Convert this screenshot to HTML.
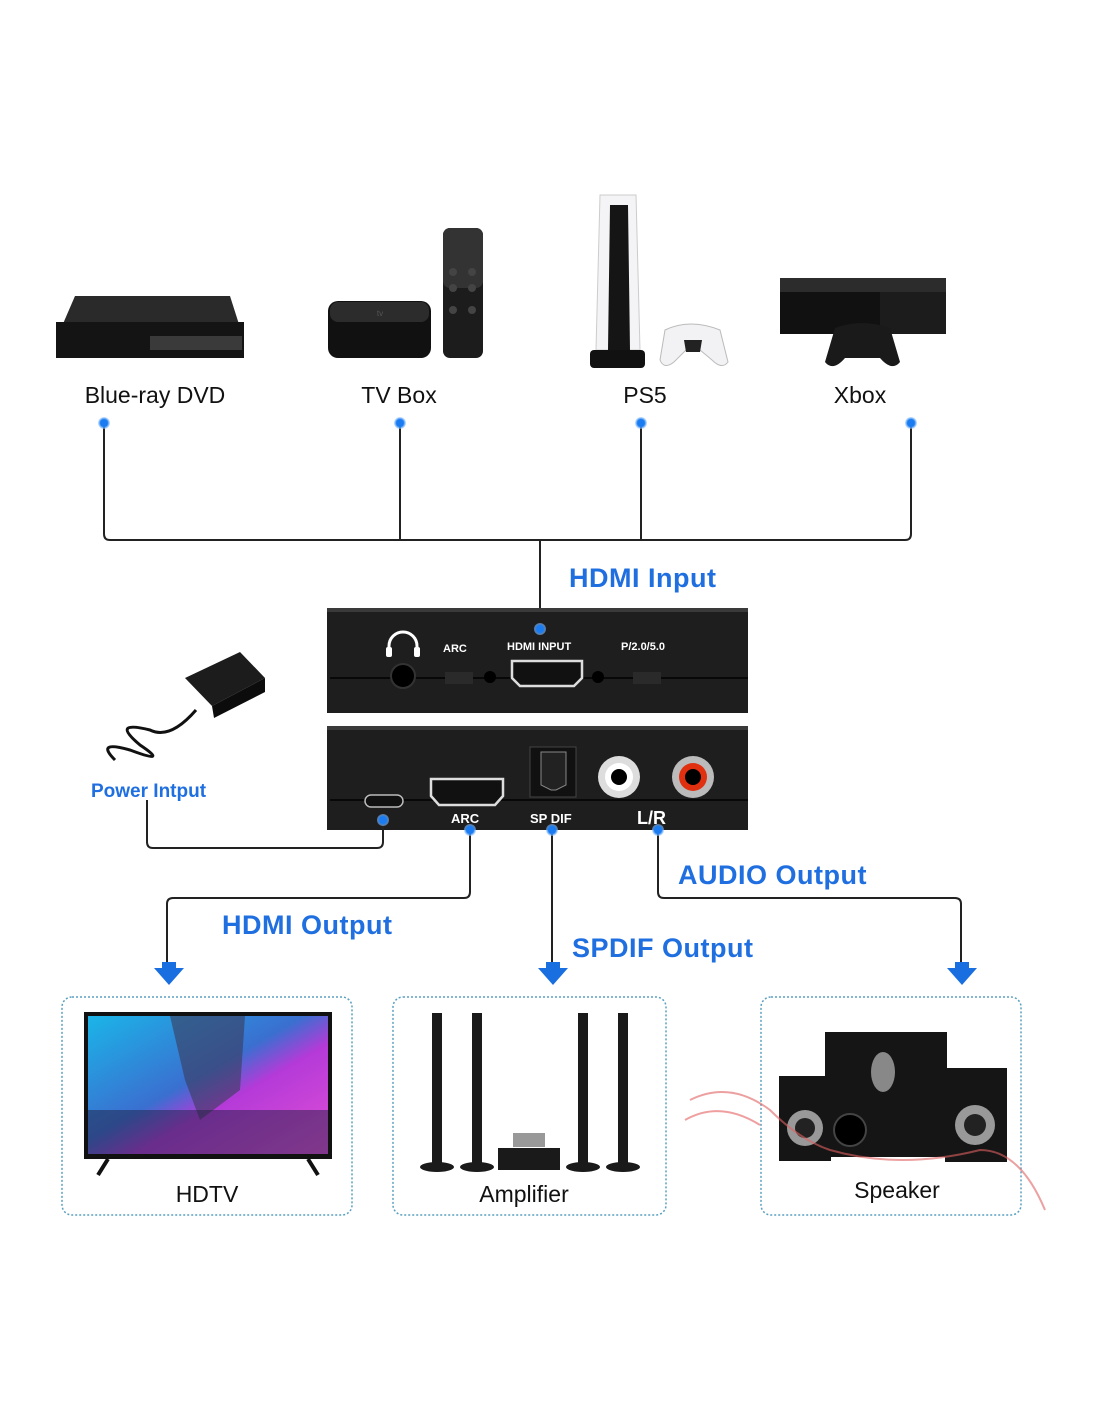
<!DOCTYPE html>
<html><head><meta charset="utf-8"><style>
html,body{margin:0;padding:0;background:#fff;}
svg{display:block;}
text{font-family:"Liberation Sans",sans-serif;}
</style></head><body>
<svg width="1100" height="1422" viewBox="0 0 1100 1422" xmlns="http://www.w3.org/2000/svg">
<defs>
<linearGradient id="tv" x1="0" y1="0" x2="1" y2="1">
<stop offset="0" stop-color="#1bb5e8"/><stop offset="0.45" stop-color="#3a6fd0"/><stop offset="0.6" stop-color="#b43ad8"/><stop offset="1" stop-color="#e24fd6"/></linearGradient>
<radialGradient id="glow"><stop offset="0" stop-color="#1a7cf0"/><stop offset="0.6" stop-color="#1a7cf0"/><stop offset="1" stop-color="#9cc8ff" stop-opacity="0.5"/></radialGradient>
</defs>

<polygon points="75,296 230,296 244,340 56,340" fill="#2a2a2a"/>
<rect x="56" y="322" width="188" height="36" fill="#141414"/>
<rect x="150" y="336" width="92" height="14" fill="#3a3a3a"/>
<rect x="328" y="301" width="103" height="57" rx="10" fill="#111"/>
<rect x="330" y="302" width="99" height="20" rx="8" fill="#2c2c2c"/>
<text x="380" y="316" font-size="8" fill="#555" text-anchor="middle">tv</text>
<rect x="443" y="228" width="40" height="130" rx="7" fill="#1c1c1c"/>
<rect x="443" y="228" width="40" height="60" rx="7" fill="#333"/>
<circle cx="453" cy="272" r="4" fill="#444"/><circle cx="472" cy="272" r="4" fill="#444"/>
<circle cx="453" cy="288" r="4" fill="#444"/><circle cx="472" cy="288" r="4" fill="#444"/>
<circle cx="453" cy="310" r="4" fill="#444"/><circle cx="472" cy="310" r="4" fill="#444"/>
<path d="M600,195 L636,195 L640,350 L596,350 Z" fill="#f4f4f6" stroke="#ccc"/>
<path d="M610,205 L628,205 L630,350 L608,350 Z" fill="#151515"/>
<rect x="590" y="350" width="55" height="18" rx="4" fill="#111"/>
<path d="M665,330 Q690,318 720,330 L728,362 Q722,370 712,360 L700,350 L686,350 L674,362 Q664,370 660,360 Z" fill="#f2f2f4" stroke="#bbb"/>
<path d="M684,340 L702,340 L700,352 L686,352 Z" fill="#222"/>
<rect x="780" y="278" width="166" height="56" fill="#111"/>
<rect x="780" y="278" width="166" height="14" fill="#2c2c2c"/>
<rect x="880" y="292" width="66" height="42" fill="#1c1c1c"/>
<path d="M835,328 Q862,318 890,328 L900,362 Q892,372 880,358 L845,358 Q833,372 825,362 Z" fill="#1a1a1a"/>

<g font-size="23" fill="#111" text-anchor="middle">
<text x="155" y="403">Blue-ray DVD</text>
<text x="399" y="403">TV Box</text>
<text x="645" y="403">PS5</text>
<text x="860" y="403">Xbox</text>
</g>

<g fill="none" stroke="#222" stroke-width="2">
<path d="M104,423 V534 Q104,540 110,540 H905 Q911,540 911,534 V423"/>
<path d="M400,423 V540 M641,423 V540 M540,540 V628"/>
</g>
<g fill="url(#glow)">
<circle cx="104" cy="423" r="6"/><circle cx="400" cy="423" r="6"/><circle cx="641" cy="423" r="6"/><circle cx="911" cy="423" r="6"/>
</g>

<text x="569" y="587" font-size="27" font-weight="bold" fill="#1f6fe0" letter-spacing="0.5">HDMI Input</text>

<rect x="327" y="608" width="421" height="105" fill="#1e1e1e"/>
<rect x="327" y="608" width="421" height="4" fill="#3a3a3a"/>
<line x1="330" y1="678" x2="748" y2="678" stroke="#000" stroke-width="1.5"/>
<circle cx="540" cy="629" r="6" fill="url(#glow)"/>
<path d="M389,655 V646 A14,14 0 0 1 417,646 V655" fill="none" stroke="#fff" stroke-width="3"/>
<rect x="386" y="647" width="6" height="10" rx="2" fill="#fff"/><rect x="414" y="647" width="6" height="10" rx="2" fill="#fff"/>
<circle cx="403" cy="676" r="12" fill="#000" stroke="#333" stroke-width="2"/>
<g font-size="11" font-weight="bold" fill="#fff">
<text x="443" y="652">ARC</text>
<text x="507" y="650">HDMI INPUT</text>
<text x="621" y="650">P/2.0/5.0</text>
<text x="364" y="762">DC 5V</text>
<text x="434" y="763">HDMI OUT</text>
</g>
<rect x="445" y="672" width="28" height="12" fill="#2a2a2a"/>
<rect x="633" y="672" width="28" height="12" fill="#2a2a2a"/>
<circle cx="490" cy="677" r="6" fill="#000"/><circle cx="598" cy="677" r="6" fill="#000"/>
<path d="M512,661 H582 V678 L574,686 H520 L512,678 Z" fill="#111" stroke="#ddd" stroke-width="2.5"/>

<rect x="327" y="726" width="421" height="104" fill="#1e1e1e"/>
<rect x="327" y="726" width="421" height="4" fill="#3a3a3a"/>
<line x1="330" y1="800" x2="748" y2="800" stroke="#000" stroke-width="1.5"/>
<rect x="365" y="795" width="38" height="12" rx="6" fill="#111" stroke="#bbb" stroke-width="1.5"/>
<path d="M431,779 H503 V796 L495,805 H439 L431,796 Z" fill="#111" stroke="#ddd" stroke-width="2.5"/>
<rect x="530" y="747" width="46" height="50" fill="#111" stroke="#444"/>
<path d="M541,752 H566 V785 L556,790 H551 L541,785 Z" fill="#222" stroke="#888"/>
<circle cx="619" cy="777" r="21" fill="#ddd"/><circle cx="619" cy="777" r="14" fill="#fff"/><circle cx="619" cy="777" r="8" fill="#000"/>
<circle cx="693" cy="777" r="21" fill="#bbb"/><circle cx="693" cy="777" r="14" fill="#e03010"/><circle cx="693" cy="777" r="8" fill="#000"/>
<g font-weight="bold" fill="#fff">
<text x="451" y="823" font-size="13">ARC</text>
<text x="530" y="823" font-size="13">SP DIF</text>
<text x="637" y="824" font-size="18">L/R</text>
</g>

<path d="M185,678 L240,652 L265,678 L212,706 Z" fill="#1c1c1c"/>
<path d="M212,706 L265,678 L265,692 L214,718 Z" fill="#0c0c0c"/>
<path d="M196,710 Q170,740 150,730 Q110,720 140,745 Q170,765 130,750 Q95,740 115,760" fill="none" stroke="#111" stroke-width="3"/>
<text x="91" y="797" font-size="19" font-weight="bold" fill="#1f6fe0">Power Intput</text>

<g fill="none" stroke="#222" stroke-width="2">
<path d="M383,820 V842 Q383,848 377,848 H153 Q147,848 147,842 V800"/>
<path d="M470,830 V892 Q470,898 464,898 H173 Q167,898 167,904 V965"/>
<path d="M552,830 V965"/>
<path d="M658,830 V892 Q658,898 664,898 H955 Q961,898 961,904 V965"/>
</g>
<g fill="url(#glow)">
<circle cx="383" cy="820" r="6"/><circle cx="470" cy="830" r="6"/><circle cx="552" cy="830" r="6"/><circle cx="658" cy="830" r="6"/>
</g>
<g fill="#1a6fe0">
<path d="M162,962 H176 V968 H184 L169,985 L154,968 H162 Z"/>
<path d="M546,962 H560 V968 H568 L553,985 L538,968 H546 Z"/>
<path d="M955,962 H969 V968 H977 L962,985 L947,968 H955 Z"/>
</g>
<g font-size="27" font-weight="bold" fill="#1f6fe0" letter-spacing="0.5">
<text x="678" y="884">AUDIO Output</text>
<text x="222" y="934">HDMI Output</text>
<text x="572" y="957">SPDIF Output</text>
</g>

<g fill="none" stroke="#5aa0c0" stroke-width="1.5" stroke-dasharray="2,2">
<rect x="62" y="997" width="290" height="218" rx="10"/>
<rect x="393" y="997" width="273" height="218" rx="10"/>
<rect x="761" y="997" width="260" height="218" rx="10"/>
</g>

<rect x="84" y="1012" width="248" height="147" fill="#111"/>
<rect x="88" y="1016" width="240" height="138" fill="url(#tv)"/>
<path d="M170,1016 L245,1016 L240,1090 L200,1120 L185,1080 Z" fill="#3a3a5a" opacity="0.6"/>
<path d="M88,1110 H328 V1154 H88 Z" fill="#202040" opacity="0.5"/>
<path d="M108,1159 L98,1175 M308,1159 L318,1175" stroke="#111" stroke-width="4"/>

<g fill="#1a1a1a">
<rect x="432" y="1013" width="10" height="150"/><rect x="472" y="1013" width="10" height="150"/>
<rect x="578" y="1013" width="10" height="150"/><rect x="618" y="1013" width="10" height="150"/>
<ellipse cx="437" cy="1167" rx="17" ry="5"/><ellipse cx="477" cy="1167" rx="17" ry="5"/>
<ellipse cx="583" cy="1167" rx="17" ry="5"/><ellipse cx="623" cy="1167" rx="17" ry="5"/>
<rect x="498" y="1148" width="62" height="22"/>
</g>
<rect x="513" y="1133" width="32" height="14" fill="#999"/>

<g fill="#151515">
<rect x="825" y="1032" width="122" height="125"/>
<rect x="779" y="1076" width="52" height="85"/>
<rect x="945" y="1068" width="62" height="94"/>
</g>
<circle cx="805" cy="1128" r="18" fill="#999"/><circle cx="805" cy="1128" r="10" fill="#222"/>
<circle cx="975" cy="1125" r="20" fill="#999"/><circle cx="975" cy="1125" r="11" fill="#222"/>
<circle cx="850" cy="1130" r="16" fill="#000" stroke="#444" stroke-width="2"/>
<ellipse cx="883" cy="1072" rx="12" ry="20" fill="#888"/>
<path d="M690,1100 Q730,1080 770,1110 Q800,1140 830,1150 Q900,1170 980,1150 Q1020,1150 1045,1210" fill="none" stroke="#e06060" stroke-width="2" opacity="0.6"/>
<path d="M685,1120 Q720,1100 760,1125" fill="none" stroke="#e04040" stroke-width="2" opacity="0.5"/>

<g font-size="23" fill="#111" text-anchor="middle">
<text x="207" y="1202">HDTV</text>
<text x="524" y="1202">Amplifier</text>
<text x="897" y="1198">Speaker</text>
</g>
</svg>
</body></html>
